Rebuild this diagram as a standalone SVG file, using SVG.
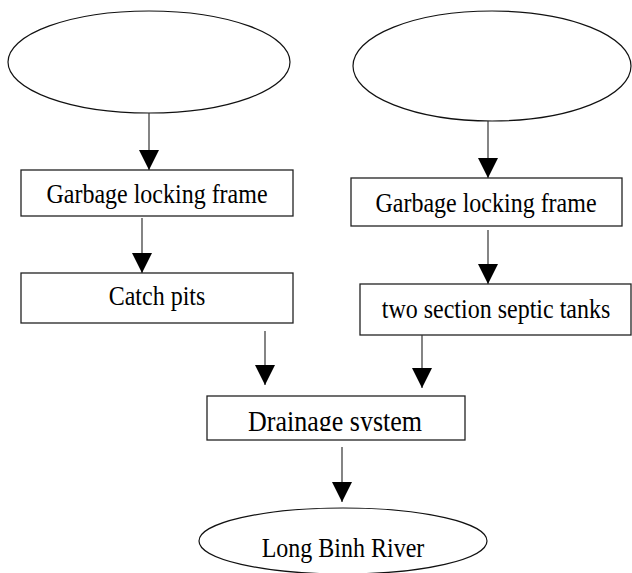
<svg xmlns="http://www.w3.org/2000/svg" width="632" height="573" viewBox="0 0 632 573">
<style>
.shape{fill:#fff;stroke:#111;stroke-width:1.2}
.box{fill:#fff;stroke:#222;stroke-width:1.3}
.lbl{font-family:"Liberation Serif","DejaVu Serif","Times New Roman",serif;font-size:24px;fill:#000;text-anchor:middle}
.conn{stroke:#333;stroke-width:1.2;fill:none;marker-end:url(#ah)}
</style>
<defs>
<marker id="ah" markerUnits="userSpaceOnUse" markerWidth="20" markerHeight="20" refX="20" refY="10" orient="auto">
<path d="M0,0 L20,10 L0,20 Z" fill="#000"/>
</marker>
<clipPath id="dclip"><rect x="207" y="396" width="258" height="35"/></clipPath>
</defs>
<rect width="632" height="573" fill="#fff"/>
<g id="src-left"><ellipse class="shape" cx="149" cy="62" rx="141" ry="51"/></g>
<g id="src-right"><ellipse class="shape" cx="492" cy="66" rx="139" ry="55"/></g>
<g id="glf-left"><rect class="box" x="21" y="170" width="272" height="46"/><text class="lbl" font-family="Liberation Serif, serif" transform="translate(157,203) scale(1,1.1)">Garbage locking frame</text></g>
<g id="catch-pits"><rect class="box" x="21" y="273" width="272" height="50"/><text class="lbl" font-family="Liberation Serif, serif" transform="translate(157,305) scale(1,1.1)">Catch pits</text></g>
<g id="glf-right"><rect class="box" x="351" y="178" width="271" height="48"/><text class="lbl" font-family="Liberation Serif, serif" transform="translate(486,212) scale(1,1.1)">Garbage locking frame</text></g>
<g id="septic"><rect class="box" x="360" y="284" width="271" height="51"/><text class="lbl" font-family="Liberation Serif, serif" transform="translate(496,318) scale(1,1.1)">two section septic tanks</text></g>
<g id="drainage"><rect class="box" x="207" y="396" width="258" height="44"/><g clip-path="url(#dclip)"><text class="lbl" font-family="Liberation Serif, serif" style="font-size:26px" transform="translate(335,431) scale(1,1.1)">Drainage system</text></g></g>
<g id="river"><ellipse class="shape" cx="343" cy="541" rx="144" ry="33"/><text class="lbl" font-family="Liberation Serif, serif" transform="translate(343,557) scale(1,1.15)">Long Binh River</text></g>
<g id="connectors">
<line class="conn" x1="149" y1="113" x2="149" y2="170"/>
<line class="conn" x1="142" y1="218" x2="142" y2="273"/>
<line class="conn" x1="265" y1="331" x2="265" y2="385"/>
<line class="conn" x1="488" y1="121" x2="488" y2="178"/>
<line class="conn" x1="488" y1="230" x2="488" y2="284"/>
<line class="conn" x1="422" y1="335" x2="422" y2="388"/>
<line class="conn" x1="342" y1="447" x2="342" y2="502"/>
</g>
</svg>
